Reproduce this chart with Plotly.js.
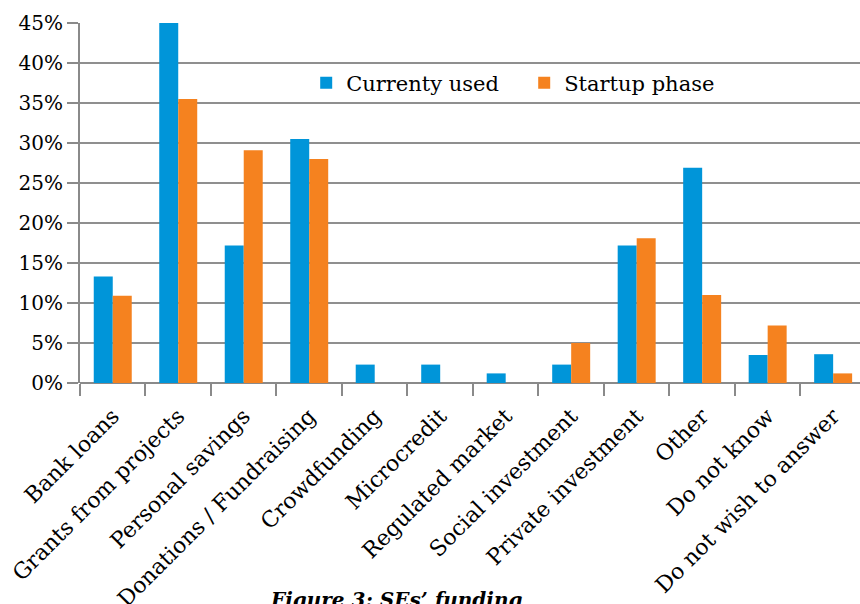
<!DOCTYPE html>
<html>
<head>
<meta charset="utf-8">
<script src="https://cdn.plot.ly/plotly-3.0.1.min.js"></script>
<style>
  html, body { margin: 0; padding: 0; background: #ffffff; }
  #chart { width: 860px; height: 604px; }
</style>
</head>
<body>
<div id="chart"></div>
<script>
const categories = [
  "Bank loans", "Grants from projects", "Personal savings", "Donations / Fundraising",
  "Crowdfunding", "Microcredit", "Regulated market", "Social investment",
  "Private investment", "Other", "Do not know", "Do not wish to answer"
];
const currentlyUsed = [13.3, 45.0, 17.2, 30.5, 2.3, 2.3, 1.2, 2.3, 17.2, 26.9, 3.5, 3.6];
const startupPhase  = [10.9, 35.5, 29.1, 28.0, 0, 0, 0, 5.0, 18.1, 11.0, 7.2, 1.2];
const seriesNames = ["Currenty used", "Startup phase"];
const yTickVals = [0, 5, 10, 15, 20, 25, 30, 35, 40, 45];
const yTickText = ["0%", "5%", "10%", "15%", "20%", "25%", "30%", "35%", "40%", "45%"];
const captionText = "<b><i>Figure 3: SEs’ funding</i></b>";

const FONT = "DejaVu Serif, serif";

const traces = [
  { type: "bar", name: seriesNames[0], x: categories, y: currentlyUsed,
    marker: { color: "#0095D9" }, hoverinfo: "skip" },
  { type: "bar", name: seriesNames[1], x: categories, y: startupPhase,
    marker: { color: "#F5821F" }, hoverinfo: "skip" }
];

const layout = {
  width: 860, height: 604,
  margin: { l: 80, r: 0, t: 23, b: 221 },
  paper_bgcolor: "#ffffff", plot_bgcolor: "#ffffff",
  font: { family: FONT, color: "#000000", size: 20 },
  barmode: "group", bargap: 0.42, bargroupgap: 0,
  showlegend: true,
  legend: {
    orientation: "h", x: 0.29, xanchor: "left", y: 0.833, yanchor: "middle",
    bgcolor: "rgba(0,0,0,0)", font: { family: FONT, size: 21, color: "#000" },
    itemwidth: 30, traceorder: "normal", entrywidth: 173
  },
  xaxis: {
    type: "category", range: [-0.5, 11.41], fixedrange: true,
    tickangle: -45, tickson: "boundaries", ticks: "outside", ticklen: 12,
    tickwidth: 2, tickcolor: "#8a8a8a", showgrid: false,
    showline: false, zeroline: false, ticklabelstandoff: 15,
    tickfont: { family: FONT, size: 22, color: "#000" }
  },
  yaxis: {
    range: [0, 45], fixedrange: true,
    tickmode: "array", tickvals: yTickVals, ticktext: yTickText,
    ticks: "outside", ticklen: 11, tickwidth: 2, tickcolor: "#8a8a8a",
    showgrid: true, gridcolor: "#8f8f8f", gridwidth: 2,
    showline: true, linecolor: "#8a8a8a", linewidth: 2,
    zeroline: true, zerolinecolor: "#8a8a8a", zerolinewidth: 2,
    tickfont: { family: FONT, size: 20, color: "#000" }
  },
  annotations: [{
    text: captionText, showarrow: false,
    xref: "paper", yref: "paper", x: (396 - 80) / 780, y: (383 - 586) / 360,
    xanchor: "center", yanchor: "top",
    font: { family: FONT, size: 20, color: "#000" }
  }]
};

Plotly.newPlot("chart", traces, layout, { staticPlot: true, displayModeBar: false });
</script>
</body>
</html>
